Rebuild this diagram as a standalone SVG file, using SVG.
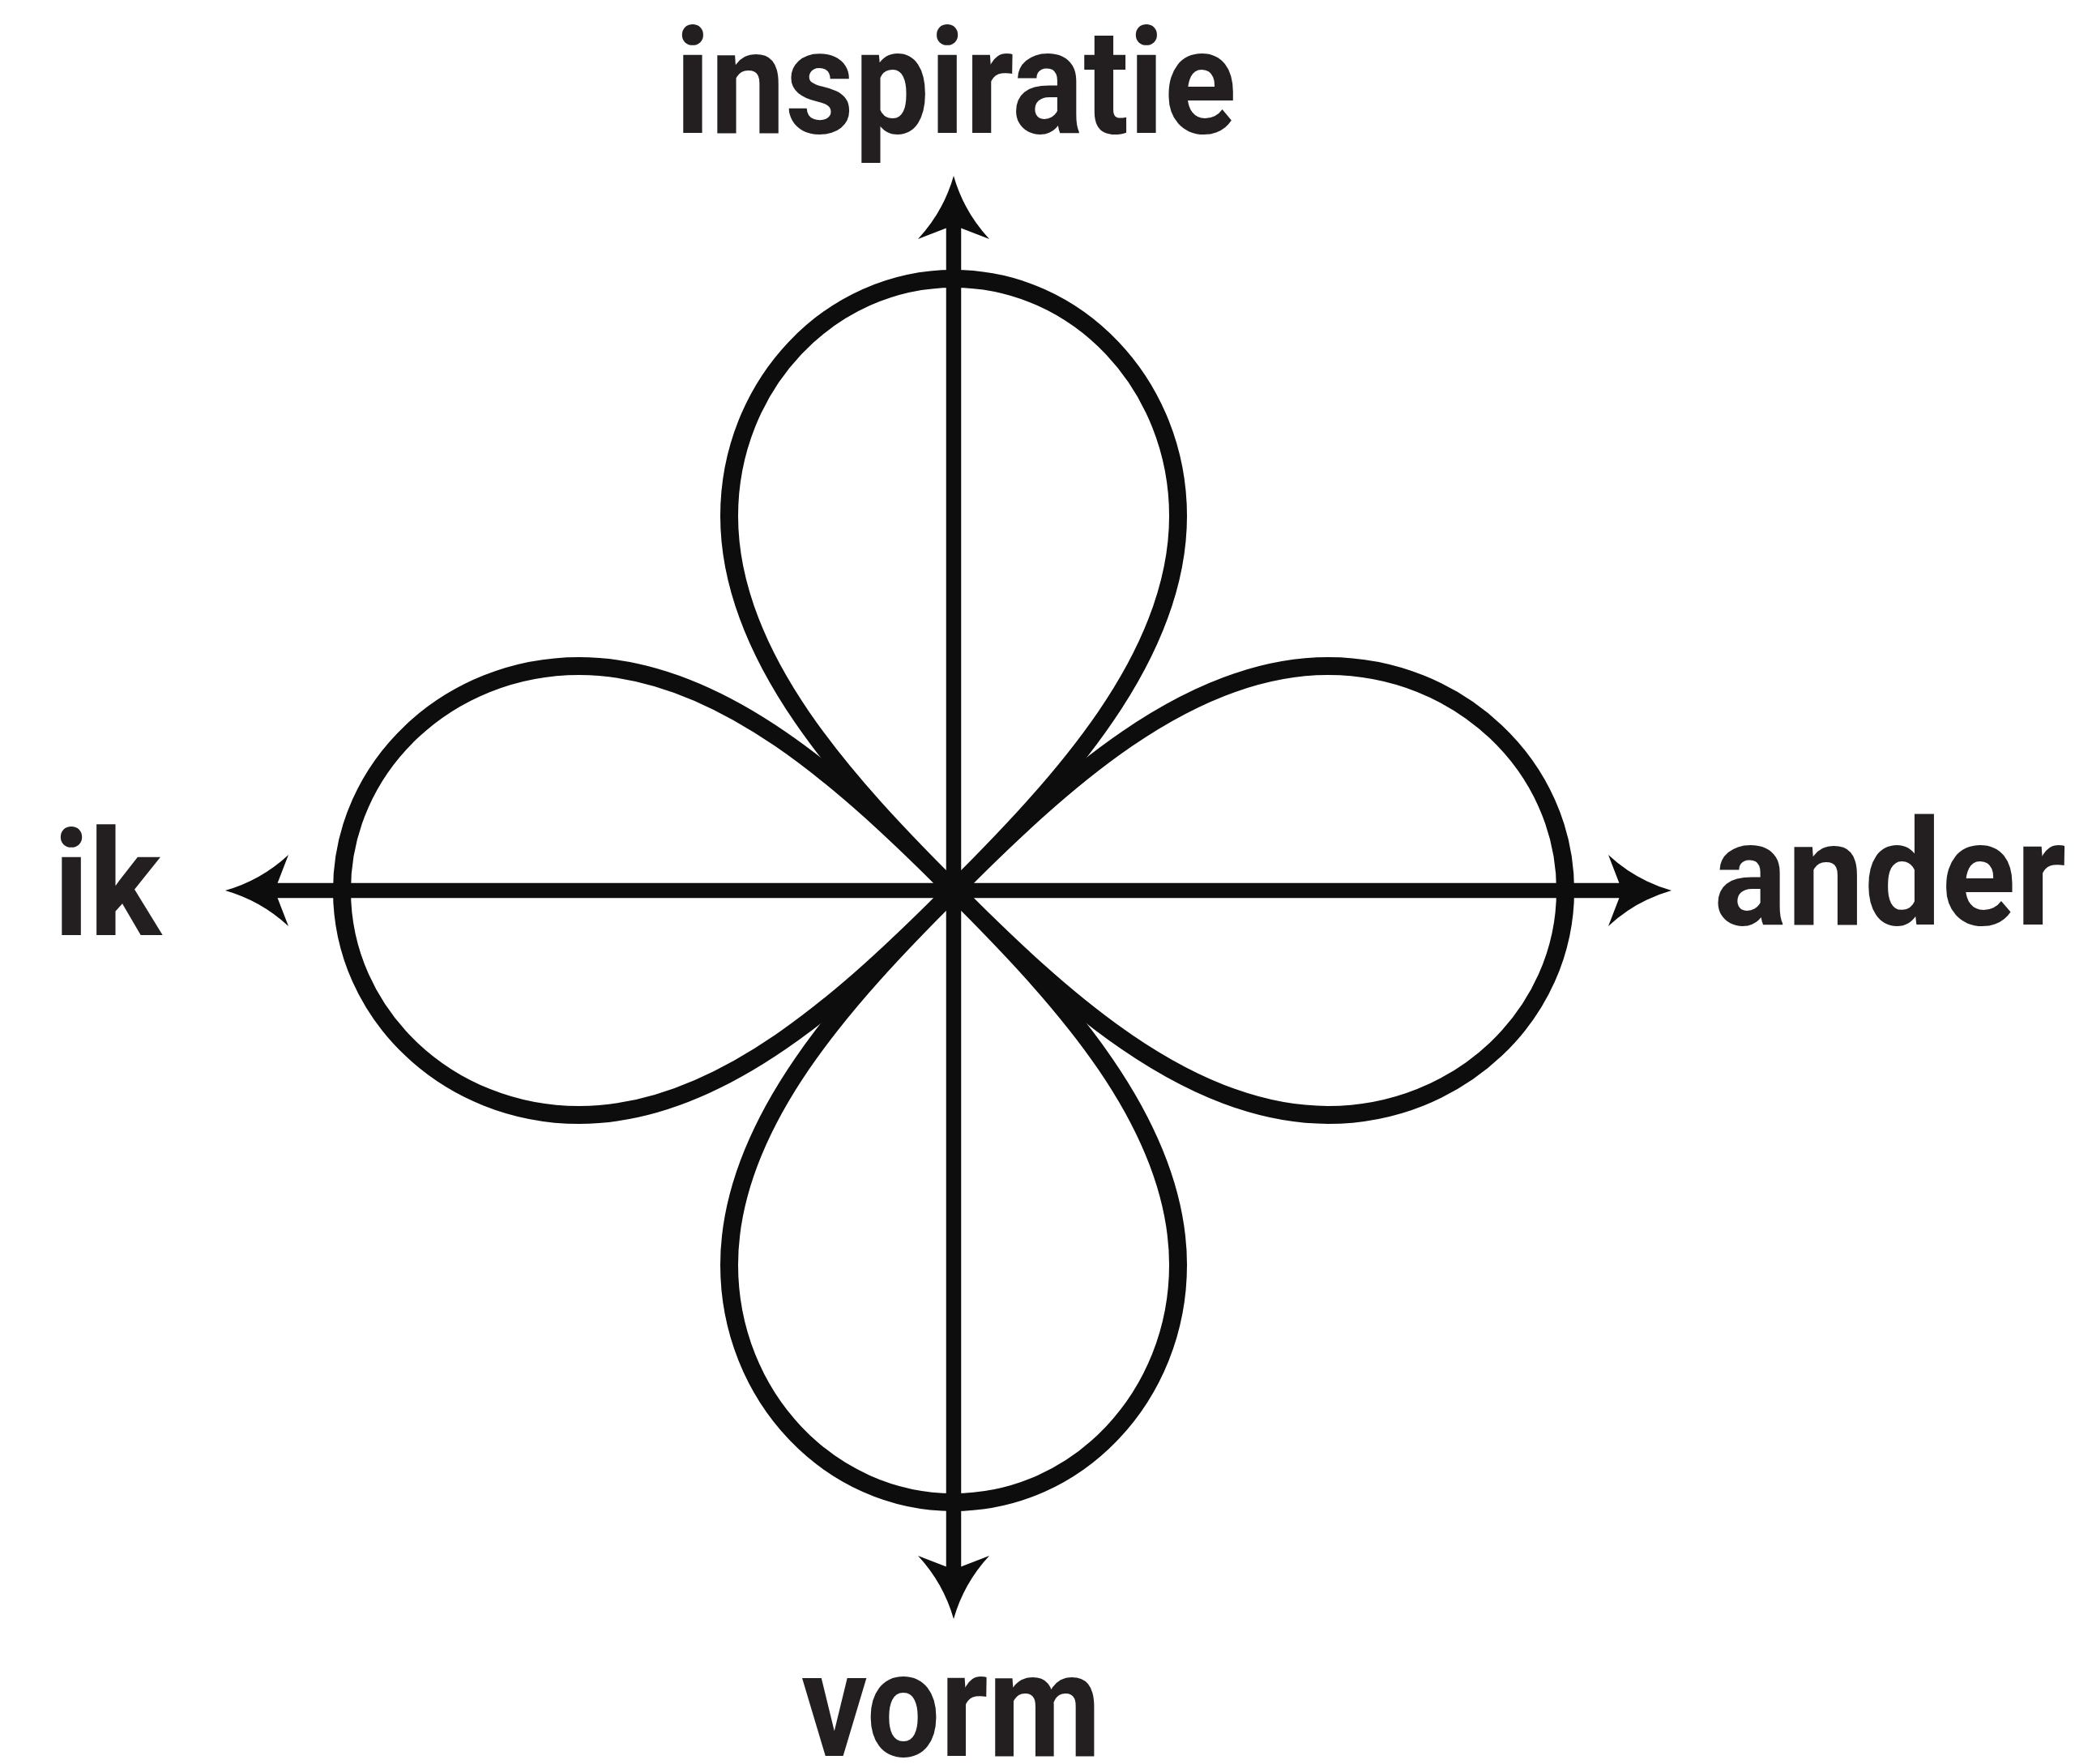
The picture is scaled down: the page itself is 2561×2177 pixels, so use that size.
<svg xmlns="http://www.w3.org/2000/svg" width="2561" height="2177" viewBox="0 0 2561 2177">
<style>
.axis{stroke:#0d0d0d;stroke-width:18.5;fill:none}
.petal{stroke:#0d0d0d;stroke-width:22;fill:none;stroke-linejoin:round}
.head{fill:#0d0d0d}
.lbl{font-family:Roboto,"Liberation Sans",sans-serif;font-weight:700;font-size:182px;fill:#231f20}
</style>
<defs>
<path id="arrowhead" class="head" d="M0 0 Q-44 -12.5 -78 -44 L-61 0 L-78 44 Q-44 12.5 0 0 Z"/>
<path id="petal" class="petal" d="M0 0 C-130 -130 -277 -287 -277 -462 C-277 -624 -153 -755 0 -755 C153 -755 277 -624 277 -462 C277 -287 130 -130 0 0 Z"/>
</defs>
<rect width="2561" height="2177" fill="#ffffff"/>
<g id="petals">
<use href="#petal" transform="translate(1177 1099)"/>
<use href="#petal" transform="translate(1177 1099) rotate(90)"/>
<use href="#petal" transform="translate(1177 1099) rotate(180)"/>
<use href="#petal" transform="translate(1177 1099) rotate(-90)"/>
</g>
<g id="connectors">
<line class="axis" x1="323" y1="1099" x2="2018" y2="1099"/>
<line class="axis" x1="1177" y1="262" x2="1177" y2="1953"/>
<use href="#arrowhead" transform="translate(1177 217) rotate(-90)"/>
<use href="#arrowhead" transform="translate(2063 1099)"/>
<use href="#arrowhead" transform="translate(1177 1998) rotate(90)"/>
<use href="#arrowhead" transform="translate(278 1099) rotate(180)"/>
</g>
<g id="node-inspiratie"><text class="lbl" x="833" y="164" textLength="693" lengthAdjust="spacingAndGlyphs">inspiratie</text></g>
<g id="node-ander"><text class="lbl" x="2115" y="1141" textLength="435" lengthAdjust="spacingAndGlyphs">ander</text></g>
<g id="node-ik"><text class="lbl" x="66" y="1154" textLength="133" lengthAdjust="spacingAndGlyphs">ik</text></g>
<g id="node-vorm"><text class="lbl" x="989" y="2167" textLength="370" lengthAdjust="spacingAndGlyphs">vorm</text></g>
</svg>
